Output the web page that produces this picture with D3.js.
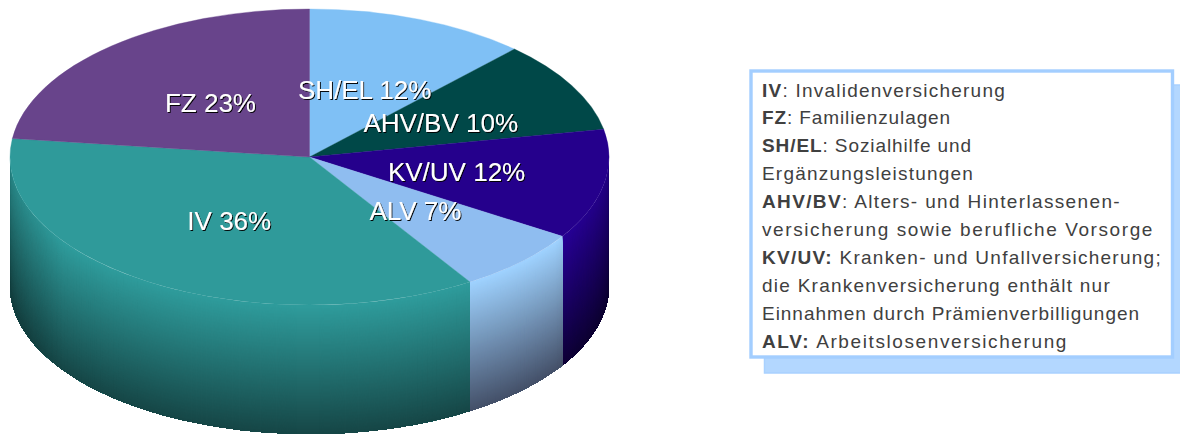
<!DOCTYPE html>
<html>
<head>
<meta charset="utf-8">
<script src="https://cdn.jsdelivr.net/npm/d3@7"></script>
<style>
	html, body { margin: 0; padding: 0; background: #fff; }
	svg { display: block; }
	text { font-family: "Liberation Sans", Arial, sans-serif; }
</style>
</head>
<body>
<svg id="chart" width="1180" height="434"></svg>
<script>
var categories = ["SH/EL", "AHV/BV", "KV/UV", "ALV", "IV", "FZ"];
var shares = [12, 10, 12, 7, 36, 23];

var faceColors = ["#7fc0f5", "#004848", "#25008c", "#8fbdf0", "#2f9a9a", "#68448b"];
var edgeColors = ["#7fc0f5", "#004848", "#28009a", "#9fd2ff", "#2f9c9c", "#68448b"];
var darkColors = ["#3a5a78", "#002020", "#0e0036", "#445068", "#164646", "#302040"];

var legendLines = [
	[["IV", true], [": Invalidenversicherung", false]],
	[["FZ", true], [": Familienzulagen", false]],
	[["SH/EL", true], [": Sozialhilfe und", false]],
	[["Ergänzungsleistungen", false]],
	[["AHV/BV", true], [": Alters- und Hinterlassenen-", false]],
	[["versicherung sowie berufliche Vorsorge", false]],
	[["KV/UV:", true], [" Kranken- und Unfallversicherung;", false]],
	[["die Krankenversicherung enthält nur", false]],
	[["Einnahmen durch Prämienverbilligungen", false]],
	[["ALV:", true], [" Arbeitslosenversicherung", false]]
];
// measured line widths in the reference, letter spacing is fitted to them
var legendWidths = [244, 189, 210, 212, 359, 392, 400, 349, 378, 306];

var CENTER = {x: 309.5, y: 157};
var RADIUS = {x: 299.5, y: 148};
var DEPTH = 129;

var svg = d3.select("#chart");
var defs = svg.append("defs");

var shadow = defs.append("filter")
	.attr("id", "labelShadow")
	.attr("x", "-10%").attr("y", "-20%")
	.attr("width", "120%").attr("height", "140%");
shadow.append("feDropShadow")
	.attr("dx", 1).attr("dy", 1)
	.attr("stdDeviation", 0.3)
	.attr("flood-color", "#000")
	.attr("flood-opacity", 0.95);

var sideShade = defs.append("linearGradient").attr("id", "sideShade");
sideShade.selectAll("stop")
	.data([[0, 0.15], [0.09, 0], [0.91, 0], [1, 0.15]])
	.enter().append("stop")
		.attr("offset", function(d) {return d[0];})
		.attr("stop-color", "#000")
		.attr("stop-opacity", function(d) {return d[1];});

var slices = d3.pie().sort(null).value(function(d) {return d;})(shares);

function rimX(a) { return CENTER.x + RADIUS.x * Math.sin(a); }
function rimY(a) { return CENTER.y - RADIUS.y * Math.cos(a); }

function rimAngles(from, to) {
	return d3.range(0, 121).map(function(k) {return from + (to - from) * k / 120;});
}

// side wall first, only the part of the rim that faces us
var wall = svg.append("g").attr("class", "wall");

slices.forEach(function(s, i) {
	var from = Math.max(s.startAngle, Math.PI / 2);
	var to = Math.min(s.endAngle, Math.PI * 3 / 2);
	if( from >= to ) return;

	var angles = rimAngles(from, to);
	var color = d3.scaleLinear()
		.domain([0, 1])
		.range([edgeColors[i], darkColors[i]]);

	for(var h=0;h<DEPTH;h++) {
		var band = d3.area()
			.x(rimX)
			.y0(function(a) {return rimY(a) + h;})
			.y1(function(a) {return rimY(a) + DEPTH;});
		wall.append("path")
			.attr("d", band(angles))
			.attr("fill", color(h / DEPTH));
	}
});

// darker towards the far left and right ends of the wall
var silhouette = d3.area()
	.x(rimX)
	.y0(rimY)
	.y1(function(a) {return rimY(a) + DEPTH;});
wall.append("path")
	.attr("d", silhouette(rimAngles(Math.PI / 2, Math.PI * 3 / 2)))
	.attr("fill", "url(#sideShade)");

// top face, unit arc squeezed into the ellipse
var arc = d3.arc().innerRadius(0).outerRadius(RADIUS.x);
var squeeze = RADIUS.y / RADIUS.x;

svg.append("g")
	.attr("transform", "translate(" + CENTER.x + "," + CENTER.y + ") scale(1," + squeeze + ")")
	.selectAll("path")
	.data(slices)
	.enter().append("path")
		.attr("d", arc)
		.attr("fill", function(d, i) {return faceColors[i];})
		.attr("stroke", function(d, i) {return faceColors[i];})
		.attr("stroke-width", 0.5);

svg.append("g")
	.selectAll("text")
	.data(slices)
	.enter().append("text")
		.attr("x", function(d) {return CENTER.x + arc.centroid(d)[0];})
		.attr("y", function(d) {return CENTER.y + arc.centroid(d)[1] * squeeze + 10.5;})
		.attr("text-anchor", "middle")
		.attr("font-size", 26)
		.attr("fill", "#fff")
		.attr("filter", "url(#labelShadow)")
		.text(function(d, i) {return categories[i] + " " + d.value + "%";});

// legend box with its offset shadow
svg.append("rect")
	.attr("x", 764.5).attr("y", 85)
	.attr("width", 430).attr("height", 288)
	.attr("fill", "#b3d7ff")
	.attr("stroke", "#a9d1ff")
	.attr("stroke-width", 1.5);
svg.append("rect")
	.attr("x", 751).attr("y", 71)
	.attr("width", 421.5).attr("height", 286)
	.attr("fill", "#fff")
	.attr("stroke", "#a3ceff")
	.attr("stroke-width", 3.4);

var legend = svg.append("g")
	.selectAll("text")
	.data(legendLines)
	.enter().append("text")
		.attr("x", 762)
		.attr("y", function(d, i) {return 96.5 + i * 27.9;})
		.attr("font-size", 19)
		.attr("fill", "#404040");

legend.selectAll("tspan")
	.data(function(d) {return d;})
	.enter().append("tspan")
		.attr("font-weight", function(d) {return d[1] ? "bold" : "normal";})
		.text(function(d) {return d[0];});

legend.each(function(d, i) {
	var chars = this.textContent.length;
	var spacing = (legendWidths[i] - this.getComputedTextLength()) / chars;
	d3.select(this).attr("letter-spacing", spacing.toFixed(3));
});
</script>
</body>
</html>
